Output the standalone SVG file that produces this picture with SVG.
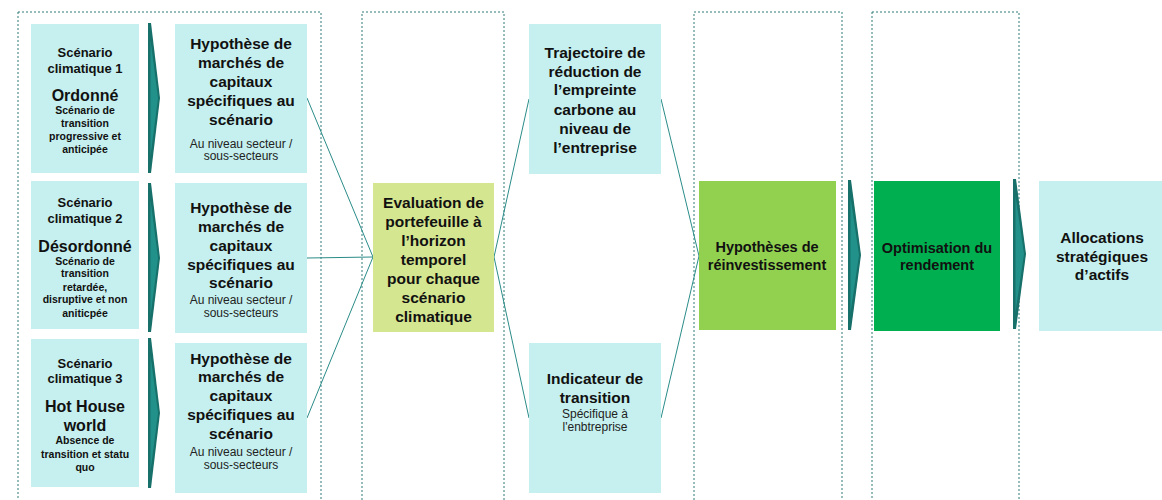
<svg xmlns="http://www.w3.org/2000/svg" width="1162" height="500" viewBox="0 0 1162 500">
<style>
.frame{fill:none;stroke:#2e7c78;stroke-width:1;stroke-dasharray:2,2}
.cyan{fill:#c5f0ef}
.t{font-family:"Liberation Sans",Arial,sans-serif;font-weight:bold;fill:#111;text-anchor:middle}
.r{font-family:"Liberation Sans",Arial,sans-serif;fill:#222;text-anchor:middle}
.s13{font-size:13px}.s16{font-size:16px}.s10{font-size:10.5px}.s15{font-size:15.5px}.s12{font-size:12px}.s14{font-size:14.5px}
.chevO{fill:#17706a}.chevI{fill:#22918a}
.conn line{stroke:#2a8c88;stroke-width:1;fill:none}
</style>
<rect width="1162" height="500" fill="#fff"/>
<g id="frames">
<rect class="frame" x="18" y="12" width="303" height="500"/>
<rect class="frame" x="362" y="12" width="142" height="500"/>
<rect class="frame" x="694" y="12" width="148" height="500"/>
<rect class="frame" x="872" y="12" width="147" height="500"/>
</g>
<g class="conn" id="connectors">
<line x1="307" y1="98" x2="373" y2="257"/>
<line x1="307" y1="258" x2="373" y2="257"/>
<line x1="307" y1="418" x2="373" y2="257"/>
<line x1="494" y1="257" x2="529" y2="99"/>
<line x1="494" y1="257" x2="529" y2="418"/>
<line x1="661" y1="99" x2="699" y2="256"/>
<line x1="661" y1="418" x2="699" y2="256"/>
</g>
<g id="chevrons">
<polygon class="chevO" points="148,23 151,23 160,98 151,173 148,173"/>
<polygon class="chevI" points="150.5,40 158,98 150.5,156"/>
<polygon class="chevO" points="148,183 151,183 160,258 151,332 148,332"/>
<polygon class="chevI" points="150.5,200 158,258 150.5,316"/>
<polygon class="chevO" points="148,338 151,338 160,413 151,488 148,488"/>
<polygon class="chevI" points="150.5,355 158,413 150.5,471"/>
<polygon class="chevO" points="848,180 851,180 861,255 851,330 848,330"/>
<polygon class="chevI" points="850.5,197 859,255 850.5,313"/>
<polygon class="chevO" points="1013,179 1016,179 1026,254 1016,329 1013,329"/>
<polygon class="chevI" points="1015.5,196 1024,254 1015.5,312"/>
</g>
<g id="scenario1">
<rect class="cyan" x="31" y="24" width="108" height="149"/>
<text class="t s13" x="85" y="56.5">Scénario</text>
<text class="t s13" x="85" y="72.5">climatique 1</text>
<text class="t s16" x="85" y="100.5">Ordonné</text>
<text class="t s10" x="85" y="113.7">Scénario de</text>
<text class="t s10" x="85" y="126.7">transition</text>
<text class="t s10" x="85" y="139.7">progressive et</text>
<text class="t s10" x="85" y="152.7">anticipée</text>
</g>
<g id="scenario2">
<rect class="cyan" x="31" y="181" width="108" height="148"/>
<text class="t s13" x="85" y="206.5">Scénario</text>
<text class="t s13" x="85" y="222.5">climatique 2</text>
<text class="t s16" x="85" y="251.5">Désordonné</text>
<text class="t s10" x="85" y="264.7">Scénario de</text>
<text class="t s10" x="85" y="276.7">transition</text>
<text class="t s10" x="85" y="290.7">retardée,</text>
<text class="t s10" x="85" y="302.7">disruptive et non</text>
<text class="t s10" x="85" y="316.7">aniticpée</text>
</g>
<g id="scenario3">
<rect class="cyan" x="31" y="339" width="108" height="148"/>
<text class="t s13" x="85" y="367.5">Scénario</text>
<text class="t s13" x="85" y="382.5">climatique 3</text>
<text class="t s16" x="85" y="411.5">Hot House</text>
<text class="t s16" x="85" y="430.5">world</text>
<text class="t s10" x="85" y="443.7">Absence de</text>
<text class="t s10" x="85" y="457.7">transition et statu</text>
<text class="t s10" x="85" y="470.7">quo</text>
</g>
<g id="hyp1">
<rect class="cyan" x="175" y="24" width="132" height="149"/>
<text class="t s15" x="241" y="48.5">Hypothèse de</text>
<text class="t s15" x="241" y="67.5">marchés de</text>
<text class="t s15" x="241" y="86.5">capitaux</text>
<text class="t s15" x="241" y="105.5">spécifiques au</text>
<text class="t s15" x="241" y="124.5">scénario</text>
<text class="r s12" x="241" y="148.2">Au niveau secteur /</text>
<text class="r s12" x="241" y="160.2">sous-secteurs</text>
</g>
<g id="hyp2">
<rect class="cyan" x="175" y="183" width="132" height="150"/>
<text class="t s15" x="241" y="212.5">Hypothèse de</text>
<text class="t s15" x="241" y="231.5">marchés de</text>
<text class="t s15" x="241" y="250.5">capitaux</text>
<text class="t s15" x="241" y="269.5">spécifiques au</text>
<text class="t s15" x="241" y="288">scénario</text>
<text class="r s12" x="241" y="304">Au niveau secteur /</text>
<text class="r s12" x="241" y="317">sous-secteurs</text>
</g>
<g id="hyp3">
<rect class="cyan" x="175" y="343" width="132" height="150"/>
<text class="t s15" x="241" y="363.5">Hypothèse de</text>
<text class="t s15" x="241" y="382">marchés de</text>
<text class="t s15" x="241" y="401">capitaux</text>
<text class="t s15" x="241" y="420">spécifiques au</text>
<text class="t s15" x="241" y="439">scénario</text>
<text class="r s12" x="241" y="456">Au niveau secteur /</text>
<text class="r s12" x="241" y="469">sous-secteurs</text>
</g>
<g id="evaluation">
<rect x="373" y="183" width="121" height="149" fill="#d5e690"/>
<text class="t s15" x="433.5" y="207.5">Evaluation de</text>
<text class="t s15" x="433.5" y="226.5">portefeuille à</text>
<text class="t s15" x="433.5" y="245.5">l’horizon</text>
<text class="t s15" x="433.5" y="264.5">temporel</text>
<text class="t s15" x="433.5" y="283.5">pour chaque</text>
<text class="t s15" x="433.5" y="302.5">scénario</text>
<text class="t s15" x="433.5" y="321.5">climatique</text>
</g>
<g id="trajectoire">
<rect class="cyan" x="529" y="24" width="132" height="150"/>
<text class="t s15" x="595" y="57.5">Trajectoire de</text>
<text class="t s15" x="595" y="76.5">réduction de</text>
<text class="t s15" x="595" y="95">l’empreinte</text>
<text class="t s15" x="595" y="114.5">carbone au</text>
<text class="t s15" x="595" y="133.5">niveau de</text>
<text class="t s15" x="595" y="152.5">l’entreprise</text>
</g>
<g id="indicateur">
<rect class="cyan" x="529" y="343" width="132" height="150"/>
<text class="t s15" x="595" y="383.5">Indicateur de</text>
<text class="t s15" x="595" y="402.5">transition</text>
<text class="r s12" x="595" y="418">Spécifique à</text>
<text class="r s12" x="595" y="431">l'enbtreprise</text>
</g>
<g id="reinvestissement">
<rect x="699" y="181" width="137" height="149" fill="#92d050"/>
<text class="t s14" x="767" y="252">Hypothèses de</text>
<text class="t s14" x="767" y="270">réinvestissement</text>
</g>
<g id="optimisation">
<rect x="874" y="181" width="126" height="150" fill="#00b050"/>
<text class="t s14" x="937" y="253">Optimisation du</text>
<text class="t s14" x="937" y="270">rendement</text>
</g>
<g id="allocations">
<rect class="cyan" x="1039" y="181" width="123" height="150"/>
<text class="t s15" x="1102" y="242.5">Allocations</text>
<text class="t s15" x="1102" y="262">stratégiques</text>
<text class="t s15" x="1102" y="279.5">d’actifs</text>
</g>
</svg>
